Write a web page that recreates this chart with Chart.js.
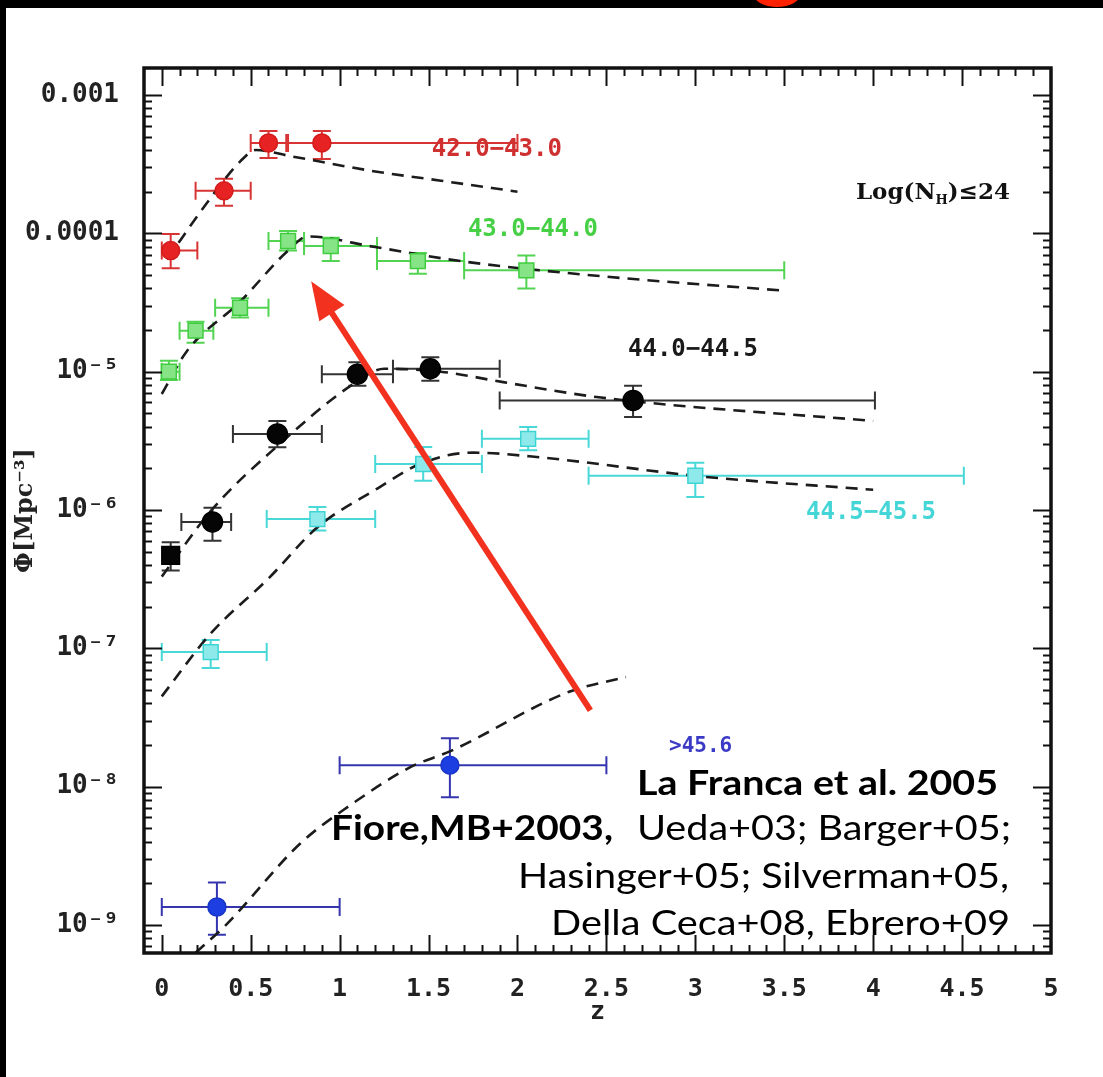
<!DOCTYPE html>
<html>
<head>
<meta charset="utf-8">
<script src="https://cdn.jsdelivr.net/npm/chart.js@4.4.1/dist/chart.umd.min.js"></script>
<style>
  html, body { margin: 0; padding: 0; background: #fff; overflow: hidden; }
  #wrap { position: relative; width: 1103px; height: 1077px; background: #fff; overflow: hidden; }
  #plot, #overlay { position: absolute; left: 0; top: 0; }
  #plot { filter: blur(0.5px); }
  .band-top { position: absolute; left: 0; top: 0; width: 1103px; height: 8px; background: #000; }
  .band-left { position: absolute; left: 0; top: 0; width: 6px; height: 1077px; background: #000; }
  .blob { position: absolute; left: 753px; top: -21px; width: 48px; height: 28px; border-radius: 50%; background: #ff2200; }
</style>
</head>
<body>
<div id="wrap">
  <canvas id="plot" width="1103" height="1077"></canvas>
  <canvas id="overlay" width="1103" height="1077"></canvas>
  <div class="band-top"></div>
  <div class="band-left"></div>
  <div class="blob"></div>
</div>
<script>
// ---- 42.0-43.0 ----
const redZ      = [0.05, 0.35, 0.60, 0.90];
const redZLo    = [0.00, 0.19, 0.50, 0.70];
const redZHi    = [0.20, 0.50, 0.71, 2.00];
const redPhi    = [7.5e-5, 2.03e-4, 4.5e-4, 4.5e-4];
const redPhiLo  = [5.6e-5, 1.58e-4, 3.5e-4, 3.45e-4];
const redPhiHi  = [9.9e-5, 2.48e-4, 5.5e-4, 5.5e-4];
const redModelZ   = [0.03, 0.26, 0.44, 0.53, 0.73, 1.20, 1.57, 2.00];
const redModelPhi = [6.5e-5, 1.7e-4, 3.3e-4, 4.0e-4, 3.6e-4, 2.8e-4, 2.4e-4, 2.0e-4];

// ---- 43.0-44.0 ----
const greenZ     = [0.04, 0.19, 0.44, 0.71, 0.95, 1.44, 2.05];
const greenZLo   = [0.00, 0.10, 0.30, 0.60, 0.80, 1.21, 1.70];
const greenZHi   = [0.10, 0.29, 0.60, 0.80, 1.21, 1.70, 3.50];
const greenPhi   = [1.0e-5, 1.98e-5, 2.9e-5, 8.8e-5, 8.1e-5, 6.3e-5, 5.4e-5];
const greenPhiLo = [8.7e-6, 1.62e-5, 2.46e-5, 7.5e-5, 6.3e-5, 5.1e-5, 4.0e-5];
const greenPhiHi = [1.2e-5, 2.3e-5, 3.4e-5, 1.04e-4, 9.3e-5, 7.2e-5, 6.9e-5];
const greenModelZ   = [0.00, 0.14, 0.44, 0.71, 0.82, 1.19, 1.68, 2.47, 3.50];
const greenModelPhi = [6.9e-6, 1.4e-5, 3.2e-5, 7.5e-5, 9.5e-5, 8.0e-5, 6.3e-5, 4.9e-5, 3.85e-5];

// ---- 44.0-44.5 ----
const blackZ     = [0.05, 0.285, 0.65, 1.10, 1.51, 2.65];
const blackZLo   = [0.05, 0.11, 0.40, 0.90, 1.30, 1.90];
const blackZHi   = [0.05, 0.39, 0.90, 1.30, 1.90, 4.01];
const blackPhi   = [4.7e-7, 8.2e-7, 3.55e-6, 9.6e-6, 1.05e-5, 6.2e-6];
const blackPhiLo = [3.66e-7, 6.0e-7, 2.84e-6, 7.9e-6, 8.6e-6, 4.7e-6];
const blackPhiHi = [5.85e-7, 1.04e-6, 4.4e-6, 1.17e-5, 1.27e-5, 7.9e-6];
const blackModelZ   = [0.00, 0.28, 0.65, 1.08, 1.25, 1.57, 1.92, 2.47, 4.00];
const blackModelPhi = [3.3e-7, 1.0e-6, 2.9e-6, 8.2e-6, 1.05e-5, 1.0e-5, 8.4e-6, 6.5e-6, 4.4e-6];

// ---- 44.5-45.5 ----
const cyanZ     = [0.275, 0.875, 1.47, 2.06, 3.00];
const cyanZLo   = [0.00, 0.59, 1.20, 1.80, 2.40];
const cyanZHi   = [0.59, 1.20, 1.80, 2.40, 4.51];
const cyanPhi   = [9.4e-8, 8.6e-7, 2.15e-6, 3.27e-6, 1.77e-6];
const cyanPhiLo = [7.2e-8, 7.1e-7, 1.63e-6, 2.7e-6, 1.24e-6];
const cyanPhiHi = [1.15e-7, 1.05e-6, 2.85e-6, 3.98e-6, 2.2e-6];
const cyanModelZ   = [0.00, 0.275, 0.60, 0.875, 1.20, 1.47, 1.75, 2.13, 3.03, 4.00];
const cyanModelPhi = [4.5e-8, 1.28e-7, 3.2e-7, 7.5e-7, 1.4e-6, 2.2e-6, 2.6e-6, 2.4e-6, 1.75e-6, 1.4e-6];

// ---- >45.6 ----
const blueZ     = [0.31, 1.62];
const blueZLo   = [0.00, 1.00];
const blueZHi   = [1.00, 2.50];
const bluePhi   = [1.35e-9, 1.43e-8];
const bluePhiLo = [8.5e-10, 8.4e-9];
const bluePhiHi = [2.03e-9, 2.24e-8];
const blueModelZ   = [0.19, 0.36, 0.78, 1.05, 1.40, 1.62, 2.29, 2.61];
const blueModelPhi = [6.3e-10, 1.0e-9, 3.9e-9, 7.2e-9, 1.39e-8, 1.8e-8, 4.85e-8, 6.2e-8];

// axis ticks
const xTickValues = [0, 0.5, 1, 1.5, 2, 2.5, 3, 3.5, 4, 4.5, 5];
const yDecades = [1e-9, 1e-8, 1e-7, 1e-6, 1e-5, 1e-4, 1e-3];
const yDecadeLabels = ['10⁻⁹', '10⁻⁸', '10⁻⁷', '10⁻⁶', '10⁻⁵', '0.0001', '0.001'];

// in-plot labels, anchored in data coordinates
const binLabels = ['42.0−43.0', '43.0−44.0', '44.0−44.5', '44.5−45.5', '>45.6'];
const binLabelZ = [1.884, 2.087, 2.987, 3.988, 3.03];
const binLabelPhi = [4.0e-4, 1.06e-4, 1.44e-5, 9.5e-7, 1.94e-8];

const series = [
  { z: redZ, zLo: redZLo, zHi: redZHi, phi: redPhi, lo: redPhiLo, hi: redPhiHi,
    mz: redModelZ, mphi: redModelPhi, fill: '#e62222', edge: '#d21c1c', bar: '#d83434',
    style: 'circle', r: 9, text: '#cf3030', font: 'bold 24px "DejaVu Sans Mono"' },
  { z: greenZ, zLo: greenZLo, zHi: greenZHi, phi: greenPhi, lo: greenPhiLo, hi: greenPhiHi,
    mz: greenModelZ, mphi: greenModelPhi, fill: '#86e486', edge: '#3fcd3f', bar: '#52d452',
    style: 'rect', r: 10.5, text: '#46d046', font: 'bold 24px "DejaVu Sans Mono"' },
  { z: blackZ, zLo: blackZLo, zHi: blackZHi, phi: blackPhi, lo: blackPhiLo, hi: blackPhiHi,
    mz: blackModelZ, mphi: blackModelPhi, fill: '#050505', edge: '#000', bar: '#333',
    style: ['rect', 'circle', 'circle', 'circle', 'circle', 'circle'], r: [12.5, 10, 10, 10, 10, 10],
    text: '#1a1a1a', font: 'bold 24px "DejaVu Sans Mono"' },
  { z: cyanZ, zLo: cyanZLo, zHi: cyanZHi, phi: cyanPhi, lo: cyanPhiLo, hi: cyanPhiHi,
    mz: cyanModelZ, mphi: cyanModelPhi, fill: '#8eeaea', edge: '#3fd4d4', bar: '#48d8d8',
    style: 'rect', r: 10.5, text: '#44d6d6', font: 'bold 24px "DejaVu Sans Mono"' },
  { z: blueZ, zLo: blueZLo, zHi: blueZHi, phi: bluePhi, lo: bluePhiLo, hi: bluePhiHi,
    mz: blueModelZ, mphi: blueModelPhi, fill: '#1d3ee0', edge: '#1a36c8', bar: '#3535b0',
    style: 'circle', r: 9, text: '#3a3ac6', font: 'bold 21px "DejaVu Sans Mono"' }
];

// arrow, in data coordinates (tail -> tip)
const arrowZ = [2.41, 0.84];
const arrowPhi = [3.56e-8, 4.5e-5];

// reference list printed over the lower right of the plot
const citeLines = [
  { baseline: 795, parts: [{ text: 'La Franca et al. 2005', bold: true, left: 637, right: 998 }] },
  { baseline: 840, parts: [{ text: 'Fiore,MB+2003,', bold: true, left: 331, right: 613 },
                           { text: 'Ueda+03; Barger+05;', bold: false, left: 637, right: 1011 }] },
  { baseline: 888, parts: [{ text: 'Hasinger+05; Silverman+05,', bold: false, left: 518, right: 1009 }] },
  { baseline: 935, parts: [{ text: 'Della Ceca+08, Ebrero+09', bold: false, left: 551, right: 1010 }] }
];

const toPts = (zs, ps) => zs.map((z, i) => ({ x: z, y: ps[i] }));

const datasets = [];
series.forEach(s => {
  datasets.push({
    type: 'scatter',
    data: toPts(s.z, s.phi),
    pointStyle: s.style,
    pointRadius: s.r,
    backgroundColor: s.fill,
    borderColor: s.edge,
    borderWidth: 1.5
  });
});
series.forEach(s => {
  datasets.push({
    type: 'line',
    data: toPts(s.mz, s.mphi),
    showLine: true,
    pointRadius: 0,
    borderColor: '#1c1c1c',
    borderWidth: 2.6,
    borderDash: [12, 8],
    cubicInterpolationMode: 'monotone',
    fill: false
  });
});

const errorBars = {
  id: 'errorBars',
  beforeDatasetsDraw(chart) {
    const { ctx, chartArea: a, scales: { x, y } } = chart;
    const cap = 9;
    ctx.save();
    ctx.beginPath();
    ctx.rect(a.left, a.top, a.right - a.left, a.bottom - a.top);
    ctx.clip();
    ctx.lineWidth = 2;
    series.forEach(s => {
      ctx.strokeStyle = s.bar;
      s.z.forEach((z, i) => {
        const px = x.getPixelForValue(z);
        const py = y.getPixelForValue(s.phi[i]);
        const x0 = x.getPixelForValue(s.zLo[i]);
        const x1 = x.getPixelForValue(s.zHi[i]);
        const y0 = y.getPixelForValue(s.lo[i]);
        const y1 = y.getPixelForValue(s.hi[i]);
        ctx.beginPath();
        if (x1 - x0 > 1) {
          ctx.moveTo(x0, py); ctx.lineTo(x1, py);
          ctx.moveTo(x0, py - cap); ctx.lineTo(x0, py + cap);
          ctx.moveTo(x1, py - cap); ctx.lineTo(x1, py + cap);
        }
        ctx.moveTo(px, y0); ctx.lineTo(px, y1);
        ctx.moveTo(px - cap, y0); ctx.lineTo(px + cap, y0);
        ctx.moveTo(px - cap, y1); ctx.lineTo(px + cap, y1);
        ctx.stroke();
      });
    });
    ctx.restore();
  }
};

// box with inward ticks on all four sides, plus the bin labels
const frame = {
  id: 'frame',
  afterDatasetsDraw(chart) {
    const { ctx, chartArea: a, scales: { x, y } } = chart;
    ctx.save();
    ctx.strokeStyle = '#111';
    ctx.lineWidth = 2;
    ctx.beginPath();
    for (let k = -10; k <= -2; k++) {
      for (let d = 1; d <= 9; d++) {
        const v = d * Math.pow(10, k);
        if (v <= y.min || v >= y.max) continue;
        const py = Math.round(y.getPixelForValue(v)) + 0.5;
        const len = d === 1 ? 18 : 8;
        ctx.moveTo(a.left, py); ctx.lineTo(a.left + len, py);
        ctx.moveTo(a.right, py); ctx.lineTo(a.right - len, py);
      }
    }
    for (let i = 0; i <= 50; i++) {
      const v = i / 10;
      if (v <= x.min || v >= x.max) continue;
      const px = Math.round(x.getPixelForValue(v)) + 0.5;
      const len = i % 5 === 0 ? 18 : 8;
      ctx.moveTo(px, a.top); ctx.lineTo(px, a.top + len);
      ctx.moveTo(px, a.bottom); ctx.lineTo(px, a.bottom - len);
    }
    ctx.stroke();
    ctx.lineWidth = 3.5;
    ctx.strokeRect(a.left, a.top, a.right - a.left, a.bottom - a.top);

    ctx.textAlign = 'center';
    ctx.textBaseline = 'middle';
    series.forEach((s, i) => {
      ctx.fillStyle = s.text;
      ctx.font = s.font;
      ctx.fillText(binLabels[i], x.getPixelForValue(binLabelZ[i]), y.getPixelForValue(binLabelPhi[i]));
    });

    // Log(N_H) <= 24
    const lx = x.getPixelForValue(4.336);
    const ly = y.getPixelForValue(1.96e-4);
    ctx.fillStyle = '#111';
    ctx.textAlign = 'left';
    ctx.font = 'bold 23px "DejaVu Serif"';
    const w1 = ctx.measureText('Log(N').width;
    ctx.font = 'bold 13px "DejaVu Serif"';
    const w2 = ctx.measureText('H').width;
    ctx.font = 'bold 23px "DejaVu Serif"';
    const w3 = ctx.measureText(')≤24').width;
    let cx = lx - (w1 + w2 + w3) / 2;
    ctx.fillText('Log(N', cx, ly); cx += w1;
    ctx.font = 'bold 13px "DejaVu Serif"';
    ctx.fillText('H', cx, ly + 8); cx += w2;
    ctx.font = 'bold 23px "DejaVu Serif"';
    ctx.fillText(')≤24', cx, ly);
    ctx.restore();
  }
};

// arrow and reference list go on the sharp overlay canvas
const overlayCanvas = document.getElementById('overlay');
const overlay = {
  id: 'overlay',
  afterDraw(chart) {
    const { scales: { x, y } } = chart;
    const o = overlayCanvas.getContext('2d');
    o.clearRect(0, 0, overlayCanvas.width, overlayCanvas.height);

    const tx = x.getPixelForValue(arrowZ[0]), ty = y.getPixelForValue(arrowPhi[0]);
    const hx = x.getPixelForValue(arrowZ[1]), hy = y.getPixelForValue(arrowPhi[1]);
    const ang = Math.atan2(hy - ty, hx - tx);
    const headLen = 38, headHalf = 15;
    const bx = hx - headLen * Math.cos(ang), by = hy - headLen * Math.sin(ang);
    o.strokeStyle = '#f2311f';
    o.fillStyle = '#f2311f';
    o.lineWidth = 6;
    o.beginPath();
    o.moveTo(tx, ty); o.lineTo(bx + 2 * Math.cos(ang), by + 2 * Math.sin(ang));
    o.stroke();
    o.beginPath();
    o.moveTo(hx, hy);
    o.lineTo(bx + headHalf * Math.sin(ang), by - headHalf * Math.cos(ang));
    o.lineTo(bx - headHalf * Math.sin(ang), by + headHalf * Math.cos(ang));
    o.closePath();
    o.fill();

    o.fillStyle = '#000';
    o.textBaseline = 'alphabetic';
    o.textAlign = 'left';
    citeLines.forEach(line => {
      line.parts.forEach(p => {
        o.font = (p.bold ? 'bold ' : '') + '34px Lato';
        const w = o.measureText(p.text).width;
        o.save();
        o.translate(p.left, line.baseline);
        o.scale((p.right - p.left) / w, 1);
        o.fillText(p.text, 0, 0);
        o.restore();
      });
    });
  }
};

const tickFont = { family: 'DejaVu Sans Mono', size: 26, weight: 'bold' };

new Chart(document.getElementById('plot').getContext('2d'), {
  type: 'scatter',
  data: { datasets },
  options: {
    responsive: false,
    animation: false,
    events: [],
    layout: { padding: { left: 6, top: 68, right: 52, bottom: 0 } },
    plugins: { legend: { display: false }, tooltip: { enabled: false } },
    scales: {
      x: {
        type: 'linear',
        min: -0.1,
        max: 5,
        afterBuildTicks: s => { s.ticks = xTickValues.map(v => ({ value: v })); },
        afterFit: s => { s.height = 124; },
        grid: { display: false },
        border: { display: false },
        ticks: { autoSkip: false, maxRotation: 0, padding: 13, color: '#222',
                 font: { family: 'DejaVu Sans Mono', size: 25, weight: 'bold' },
                 callback: v => String(v) },
        title: { display: true, text: 'z', color: '#222',
                 font: { family: 'DejaVu Sans Mono', size: 25, weight: 'bold' }, padding: { top: 0, bottom: 50 } }
      },
      y: {
        type: 'logarithmic',
        min: 6.28e-10,
        max: 1.567e-3,
        afterBuildTicks: s => { s.ticks = yDecades.map(v => ({ value: v, major: true })); },
        afterFit: s => { s.width = 138; },
        grid: { display: false },
        border: { display: false },
        ticks: { autoSkip: false, padding: 17, color: '#222', font: tickFont,
                 callback: v => yDecadeLabels[Math.round(Math.log10(v)) + 9] },
        title: { display: true, text: 'Φ[Mpc⁻³]', color: '#222',
                 font: { family: 'DejaVu Serif', size: 24, weight: 'bold' }, padding: { top: 5, bottom: 0 } }
      }
    }
  },
  plugins: [errorBars, frame, overlay]
});
</script>
</body>
</html>
